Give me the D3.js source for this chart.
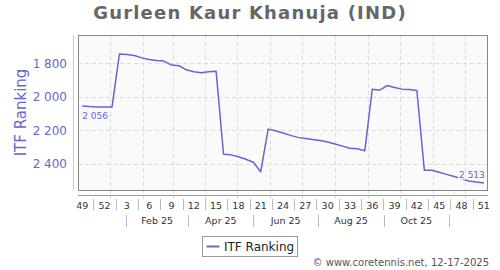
<!DOCTYPE html>
<html>
<head>
<meta charset="utf-8">
<script src="https://cdn.jsdelivr.net/npm/d3@7"></script>
<style>
  body { margin: 0; background: #fff; }
  text { font-family: "DejaVu Sans", sans-serif; }
</style>
</head>
<body>
<div id="chart"></div>
<script>
/* ITF week numbers, Dec 2024 (wk 49) to Dec 2025 (wk 51) */
const weeks = [49, 50, 51, 52, 1, 2, 3, 4, 5, 6, 7, 8, 9, 10, 11, 12, 13, 14, 15, 16,
  17, 18, 19, 20, 21, 22, 23, 24, 25, 26, 27, 28, 29, 30, 31, 32, 33, 34, 35, 36,
  37, 38, 39, 40, 41, 42, 43, 44, 45, 46, 47, 48, 49, 50, 51];

/* weekly ranking */
const ranking = [2056, 2059, 2061, 2062, 2062,
  1746, 1749, 1755, 1769, 1779, 1785, 1788, 1812, 1816, 1840, 1852, 1858, 1852, 1848,
  2342, 2346, 2357, 2372, 2390, 2446,
  2193, 2203, 2216, 2230, 2242, 2248, 2254, 2261, 2269, 2281, 2294, 2307, 2310, 2321,
  1955, 1961, 1934, 1945, 1955, 1957, 1963,
  2437, 2438, 2449, 2462, 2475, 2488, 2501, 2508, 2513];

/* tick labels */
const yTicks = [1800, 2000, 2200, 2400];
const weekTicks = [49, 52, 3, 6, 9, 12, 15, 18, 21, 24, 27, 30, 33, 36, 39, 42, 45, 48, 51];
const monthLabels = ["Feb 25", "Apr 25", "Jun 25", "Aug 25", "Oct 25"];

const title = "Gurleen Kaur Khanuja (IND)";
const seriesName = "ITF Ranking";
const credit = "\u00a9 www.coretennis.net, 12-17-2025";

// dimensions
const width = 500, height = 270;
const plot = {left: 78, top: 35, right: 487, bottom: 190};
const axisY = 195;
const lineColor = "#6666cc";

/* week start (Monday) of the first week, each point sits on the Friday */
const firstMonday = new Date(2024, 11, 2);
const day = 864e5;
const dates = weeks.map((w, i) => new Date(firstMonday.getTime() + (i * 7 + 4) * day));
const data = weeks.map((w, i) => ({week: w, date: dates[i], value: ranking[i]}));

const fmt = d3.formatLocale({decimal: ".", thousands: " ", grouping: [3], currency: ["", ""]}).format(",d");

const svg = d3.select("#chart")
  .append("svg")
  .attr("width", width)
  .attr("height", height);

svg.append("rect").attr("width", width).attr("height", height).attr("fill", "#fff");

/* scales */
const xScale = d3.scaleTime()
  .domain([new Date(2024, 11, 2), new Date(2025, 11, 22)])
  .range([plot.left, plot.right]);

const yScale = d3.scaleLinear()
  .domain([1633, 2555])
  .range([plot.top, plot.bottom]);

/* title */
svg.append("text")
  .attr("x", 250)
  .attr("y", 19)
  .attr("text-anchor", "middle")
  .style("font-size", "18px")
  .style("font-weight", "bold")
  .style("letter-spacing", "1.2px")
  .attr("fill", "#666")
  .text(title);

/* plot background */
svg.append("rect")
  .attr("x", plot.left + 0.5)
  .attr("y", plot.top + 0.5)
  .attr("width", plot.right - plot.left)
  .attr("height", plot.bottom - plot.top)
  .attr("fill", "#fafafa");

/* vertical grid, one line per month */
const months = d3.timeMonth.range(new Date(2025, 0, 1), new Date(2025, 11, 2));
svg.append("g")
  .selectAll("line")
  .data(months)
  .join("line")
    .attr("x1", d => Math.round(xScale(d)) + 0.5)
    .attr("x2", d => Math.round(xScale(d)) + 0.5)
    .attr("y1", plot.top)
    .attr("y2", axisY + 4)
    .attr("stroke", "#dcdcdc")
    .attr("stroke-dasharray", "4,3");

/* horizontal grid */
svg.append("g")
  .selectAll("line")
  .data(yTicks)
  .join("line")
    .attr("x1", plot.left)
    .attr("x2", plot.right)
    .attr("y1", d => Math.round(yScale(d)) + 0.5)
    .attr("y2", d => Math.round(yScale(d)) + 0.5)
    .attr("stroke", "#dcdcdc")
    .attr("stroke-dasharray", "4,3");

/* plot border */
svg.append("rect")
  .attr("x", plot.left + 0.5)
  .attr("y", plot.top + 0.5)
  .attr("width", plot.right - plot.left)
  .attr("height", plot.bottom - plot.top)
  .attr("fill", "none")
  .attr("stroke", "#888");

/* y axis */
svg.append("line")
  .attr("x1", 73.5).attr("x2", 73.5)
  .attr("y1", plot.top).attr("y2", plot.bottom)
  .attr("stroke", "#c4c4ee");

svg.append("g")
  .selectAll("text")
  .data(yTicks)
  .join("text")
    .attr("x", 67)
    .attr("y", d => yScale(d) + 4.5)
    .attr("text-anchor", "end")
    .style("font-size", "12px")
    .attr("fill", lineColor)
    .text(d => fmt(d));

svg.append("text")
  .attr("transform", `translate(26, ${(plot.top + plot.bottom) / 2}) rotate(-90)`)
  .attr("text-anchor", "middle")
  .style("font-size", "15px")
  .attr("fill", lineColor)
  .text(seriesName);

/* x axis line */
svg.append("line")
  .attr("x1", plot.left).attr("x2", plot.right + 1)
  .attr("y1", axisY + 0.5).attr("y2", axisY + 0.5)
  .attr("stroke", "#999");

/* week labels, separators halfway between them */
const weekDates = weekTicks.map(w => dates[weeks.indexOf(w, w < 49 ? 4 : 0)]);
weekDates[weekDates.length - 1] = dates[dates.length - 1];

svg.append("g")
  .selectAll("text")
  .data(weekTicks)
  .join("text")
    .attr("x", (d, i) => xScale(weekDates[i]))
    .attr("y", 208.5)
    .attr("text-anchor", "middle")
    .style("font-size", "9.5px")
    .attr("fill", "#333")
    .text(d => d);

svg.append("g")
  .selectAll("line")
  .data(d3.pairs(weekDates))
  .join("line")
    .attr("x1", d => Math.round((xScale(d[0]) + xScale(d[1])) / 2) + 0.5)
    .attr("x2", d => Math.round((xScale(d[0]) + xScale(d[1])) / 2) + 0.5)
    .attr("y1", 199)
    .attr("y2", 210)
    .attr("stroke", "#bbb");

/* month group labels */
const groupEdges = [0, 2, 4, 6, 8, 10].map(m => new Date(2025, m, 16));
svg.append("g")
  .selectAll("line")
  .data(groupEdges)
  .join("line")
    .attr("x1", d => Math.round(xScale(d)) + 0.5)
    .attr("x2", d => Math.round(xScale(d)) + 0.5)
    .attr("y1", 215)
    .attr("y2", 227)
    .attr("stroke", "#bbb");

svg.append("g")
  .selectAll("text")
  .data(monthLabels)
  .join("text")
    .attr("x", (d, i) => (xScale(groupEdges[i]) + xScale(groupEdges[i + 1])) / 2)
    .attr("y", 224)
    .attr("text-anchor", "middle")
    .style("font-size", "9.5px")
    .attr("fill", "#333")
    .text(d => d);

/* ranking line */
const line = d3.line()
  .x(d => xScale(d.date))
  .y(d => yScale(d.value));

svg.append("path")
  .datum(data)
  .attr("d", line)
  .attr("fill", "none")
  .attr("stroke", lineColor)
  .attr("stroke-width", 1.5)
  .attr("stroke-linejoin", "round");

/* first and last value labels */
const first = data[0], last = data[data.length - 1];
svg.append("text")
  .attr("x", xScale(first.date))
  .attr("y", yScale(first.value) + 13)
  .style("font-size", "9px")
  .attr("fill", lineColor)
  .text(fmt(first.value));

svg.append("text")
  .attr("x", xScale(last.date) + 1)
  .attr("y", yScale(last.value) - 4.5)
  .attr("text-anchor", "end")
  .style("font-size", "9px")
  .attr("fill", lineColor)
  .attr("stroke", "#fafafa")
  .attr("stroke-width", 3)
  .attr("paint-order", "stroke")
  .text(fmt(last.value));

/* legend */
const legend = svg.append("g").attr("transform", "translate(202.5, 236.5)");
legend.append("rect")
  .attr("width", 95)
  .attr("height", 20)
  .attr("fill", "#fff")
  .attr("stroke", "#999");
legend.append("line")
  .attr("x1", 4).attr("x2", 17)
  .attr("y1", 10).attr("y2", 10)
  .attr("stroke", lineColor)
  .attr("stroke-width", 2);
legend.append("text")
  .attr("x", 21.5)
  .attr("y", 14.5)
  .style("font-size", "12px")
  .attr("fill", "#222")
  .text(seriesName);

/* credit */
svg.append("text")
  .attr("x", 489)
  .attr("y", 266)
  .attr("text-anchor", "end")
  .style("font-size", "10px")
  .attr("fill", "#555")
  .text(credit);
</script>
</body>
</html>
